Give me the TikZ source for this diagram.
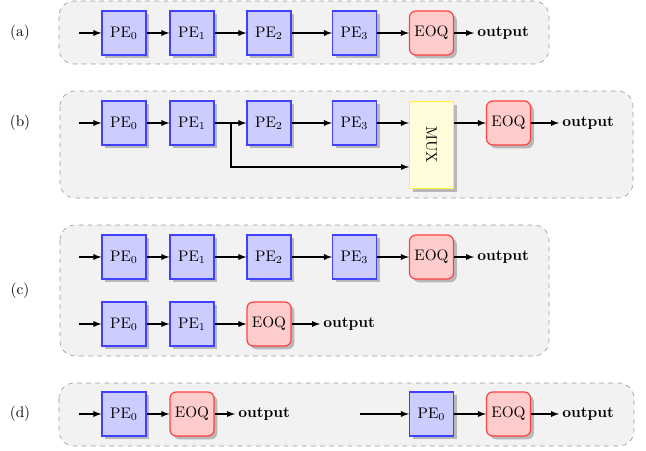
\documentclass[tikz,border=0pt]{standalone}
\usepackage{graphicx}
\usetikzlibrary{backgrounds}
\usetikzlibrary{shadows}
\usetikzlibrary{arrows}

% columns (px of the layout grid)
\newcommand{\colin}{79}
\newcommand{\colxa}{124}
\newcommand{\colxb}{192}
\newcommand{\colxc}{269}
\newcommand{\colxd}{354.5}
\newcommand{\colxe}{431.5}
\newcommand{\colxf}{508.5}
\newcommand{\colbr}{231}
% rows
\newcommand{\rowya}{33}
\newcommand{\rowyb}{123}
\newcommand{\rowybl}{167}
\newcommand{\rowyca}{257}
\newcommand{\rowycb}{324}
\newcommand{\rowyd}{414}
\newcommand{\rowyc}{291}
\newcommand{\labx}{20}

\begin{document}
\begin{tikzpicture}[x=0.655pt,y=-0.655pt,
    pebox/.style={draw=blue!75,fill=blue!20,thick,minimum size=28.8pt,
      inner sep=0pt,drop shadow},
    eoqbox/.style={draw=red!75,fill=red!20,thick,rounded corners=4pt,
      minimum size=28.8pt,inner sep=0pt,drop shadow},
    muxbox/.style={draw=yellow!85,fill=yellow!15,thick,minimum width=28.8pt,
      minimum height=57pt,inner sep=0pt,drop shadow},
    outtext/.style={anchor=west,font=\bfseries,inner sep=2pt},
    link/.style={thick,-latex},
    stage/.style={draw=gray!80,dashed,fill=gray!10,rounded corners=10pt}]
    \useasboundingbox (0,0) rectangle (646,451);

    % (a)
    \node (laba) at (\labx, \rowya) {(a)};
    \coordinate (ina) at (\colin, \rowya);
    \node (pe0a) at (\colxa, \rowya) [pebox] {PE$_0$};
    \node (pe1a) at (\colxb, \rowya) [pebox] {PE$_1$};
    \node (pe2a) at (\colxc, \rowya) [pebox] {PE$_2$};
    \node (pe3a) at (\colxd, \rowya) [pebox] {PE$_3$};
    \node (eoqa) at (\colxe, \rowya) [eoqbox] {EOQ};
    \node (outa) at (474, \rowya) [outtext] {output};
    \draw[link] (ina) -- (pe0a);
    \draw[link] (pe0a) -- (pe1a);
    \draw[link] (pe1a) -- (pe2a);
    \draw[link] (pe2a) -- (pe3a);
    \draw[link] (pe3a) -- (eoqa);
    \draw[link] (eoqa) -- (outa);

    % (b)
    \node (labb) at (\labx, \rowyb) {(b)};
    \coordinate (inb) at (\colin, \rowyb);
    \node (pe0b) at (\colxa, \rowyb) [pebox] {PE$_0$};
    \node (pe1b) at (\colxb, \rowyb) [pebox] {PE$_1$};
    \node (pe2b) at (\colxc, \rowyb) [pebox] {PE$_2$};
    \node (pe3b) at (\colxd, \rowyb) [pebox] {PE$_3$};
    \node (muxb) at (\colxe, 145) [muxbox] {\rotatebox{-90}{MUX}};
    \node (eoqb) at (\colxf, \rowyb) [eoqbox] {EOQ};
    \node (outb) at (559, \rowyb) [outtext] {output};
    \coordinate (brb) at (\colbr, \rowyb);
    \coordinate (lowb) at (409, \rowybl);
    \draw[link] (inb) -- (pe0b);
    \draw[link] (pe0b) -- (pe1b);
    \draw[link] (pe1b) -- (pe2b);
    \draw[link] (pe2b) -- (pe3b);
    \draw[link] (pe3b) -- (pe3b -| muxb.west);
    \draw[link] (brb) |- (lowb);
    \draw[link] (muxb.east |- eoqb) -- (eoqb);
    \draw[link] (eoqb) -- (outb);

    % (c)
    \node (labc) at (\labx, \rowyc) {(c)};
    \coordinate (inca) at (\colin, \rowyca);
    \node (pe0ca) at (\colxa, \rowyca) [pebox] {PE$_0$};
    \node (pe1ca) at (\colxb, \rowyca) [pebox] {PE$_1$};
    \node (pe2ca) at (\colxc, \rowyca) [pebox] {PE$_2$};
    \node (pe3ca) at (\colxd, \rowyca) [pebox] {PE$_3$};
    \node (eoqca) at (\colxe, \rowyca) [eoqbox] {EOQ};
    \node (outca) at (474, \rowyca) [outtext] {output};
    \draw[link] (inca) -- (pe0ca);
    \draw[link] (pe0ca) -- (pe1ca);
    \draw[link] (pe1ca) -- (pe2ca);
    \draw[link] (pe2ca) -- (pe3ca);
    \draw[link] (pe3ca) -- (eoqca);
    \draw[link] (eoqca) -- (outca);

    \coordinate (incb) at (\colin, \rowycb);
    \node (pe0cb) at (\colxa, \rowycb) [pebox] {PE$_0$};
    \node (pe1cb) at (\colxb, \rowycb) [pebox] {PE$_1$};
    \node (eoqcb) at (\colxc, \rowycb) [eoqbox] {EOQ};
    \node (outcb) at (320, \rowycb) [outtext] {output};
    \draw[link] (incb) -- (pe0cb);
    \draw[link] (pe0cb) -- (pe1cb);
    \draw[link] (pe1cb) -- (eoqcb);
    \draw[link] (eoqcb) -- (outcb);

    % (d)
    \node (labd) at (\labx, \rowyd) {(d)};
    \coordinate (inda) at (\colin, \rowyd);
    \node (pe0da) at (\colxa, \rowyd) [pebox] {PE$_0$};
    \node (eoqda) at (\colxb, \rowyd) [eoqbox] {EOQ};
    \node (outda) at (235, \rowyd) [outtext] {output};
    \draw[link] (inda) -- (pe0da);
    \draw[link] (pe0da) -- (eoqda);
    \draw[link] (eoqda) -- (outda);

    \coordinate (indb) at (360, \rowyd);
    \node (pe0db) at (\colxe, \rowyd) [pebox] {PE$_0$};
    \node (eoqdb) at (\colxf, \rowyd) [eoqbox] {EOQ};
    \node (outdb) at (559, \rowyd) [outtext] {output};
    \draw[link] (indb) -- (pe0db);
    \draw[link] (pe0db) -- (eoqdb);
    \draw[link] (eoqdb) -- (outdb);

    \begin{scope}[on background layer]
      \draw[stage] (59,1) rectangle (549,64);
      \draw[stage] (60,91) rectangle (633,198);
      \draw[stage] (60,225) rectangle (549,356);
      \draw[stage] (59,383) rectangle (634,446);
    \end{scope}
  \end{tikzpicture}
\end{document}
